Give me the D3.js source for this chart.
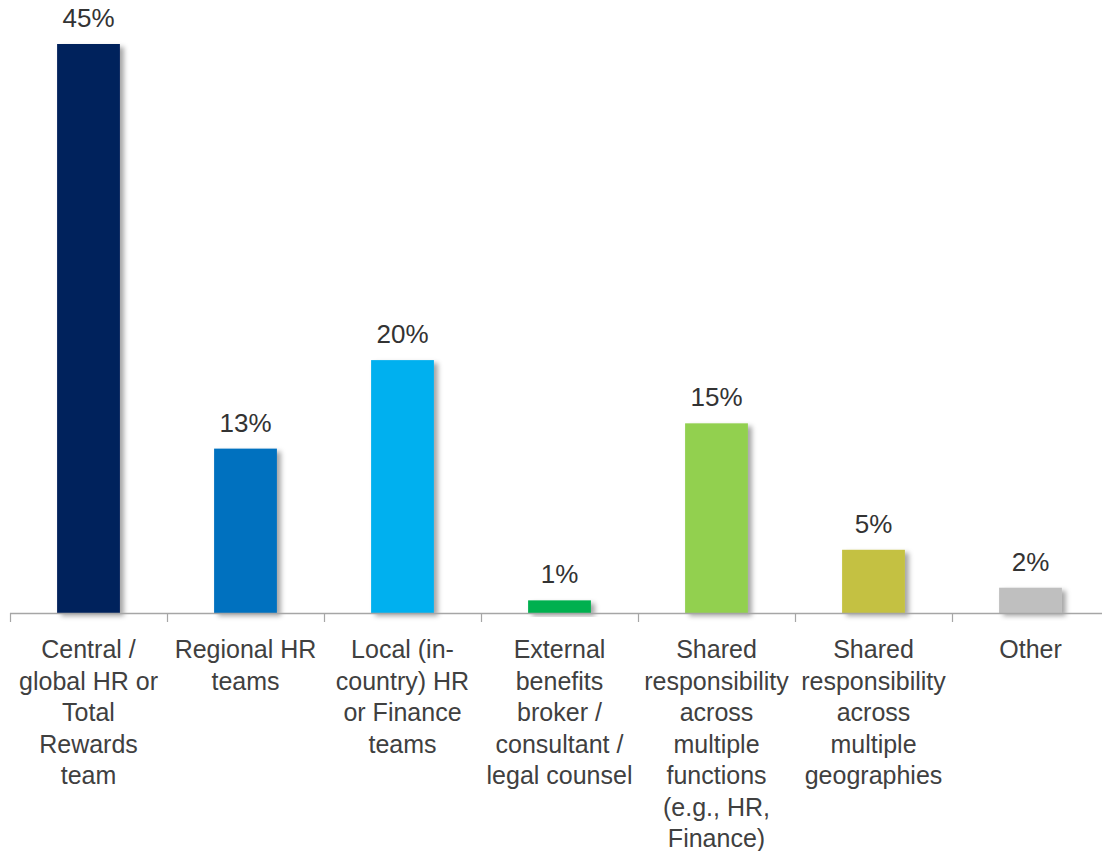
<!DOCTYPE html>
<html>
<head>
<meta charset="utf-8">
<script src="https://cdn.jsdelivr.net/npm/d3@7/dist/d3.min.js"></script>
<style>
  html, body { margin: 0; padding: 0; background: #fff; }
  svg { display: block; font-family: "Liberation Sans", Arial, sans-serif; }
</style>
</head>
<body>
<svg id="chart" width="1102" height="851"></svg>
<script>
// Who owns benefits decisions: share of respondents per group
const categories = [
  "Central / global HR or Total Rewards team",
  "Regional HR teams",
  "Local (in-country) HR or Finance teams",
  "External benefits broker / consultant / legal counsel",
  "Shared responsibility across multiple functions (e.g., HR, Finance)",
  "Shared responsibility across multiple geographies",
  "Other"
];
const categoryLines = [
  ["Central /", "global HR or", "Total", "Rewards", "team"],
  ["Regional HR", "teams"],
  ["Local (in-", "country) HR", "or Finance", "teams"],
  ["External", "benefits", "broker /", "consultant /", "legal counsel"],
  ["Shared", "responsibility", "across", "multiple", "functions", "(e.g., HR,", "Finance)"],
  ["Shared", "responsibility", "across", "multiple", "geographies"],
  ["Other"]
];
const values = [45, 13, 20, 1, 15, 5, 2];
const colors = ["#00205b", "#0071bf", "#00b0ef", "#00b050", "#92d050", "#c4c142", "#bfbfbf"];

const svg = d3.select("#chart");
const margin = { left: 10, baseline: 613, top: 44 };

const x = d3.scaleBand()
  .domain(categories)
  .range([margin.left, margin.left + 157 * categories.length])
  .paddingInner(0.6)
  .paddingOuter(0.3);

const y = d3.scaleLinear()
  .domain([0, d3.max(values)])
  .range([margin.baseline, margin.top]);

// soft shadow to the lower right of each bar
const defs = svg.append("defs");
const f = defs.append("filter").attr("id", "shadow")
  .attr("x", "-20%").attr("y", "-20%").attr("width", "150%").attr("height", "150%");
f.append("feDropShadow")
  .attr("dx", 4).attr("dy", 3).attr("stdDeviation", 2.5)
  .attr("flood-color", "#000").attr("flood-opacity", 0.35);

// bars
svg.append("g").selectAll("rect")
  .data(values)
  .join("rect")
  .attr("x", (d, i) => x(categories[i]))
  .attr("y", d => y(d))
  .attr("width", x.bandwidth())
  .attr("height", d => y(0) - y(d))
  .attr("fill", (d, i) => colors[i])
  .attr("filter", "url(#shadow)");

// category axis: boundary ticks between groups
const step = x.step();
const boundaries = d3.range(categories.length + 1).map(i => margin.left + i * step);
const axis = svg.append("g");
axis.append("line")
  .attr("x1", margin.left).attr("x2", 1102)
  .attr("y1", y(0) + 0.5).attr("y2", y(0) + 0.5)
  .attr("stroke", "#a6a6a6").attr("stroke-width", 1.5);
axis.selectAll("line.tick")
  .data(boundaries)
  .join("line")
  .attr("class", "tick")
  .attr("x1", d => d + 0.5).attr("x2", d => d + 0.5)
  .attr("y1", y(0)).attr("y2", y(0) + 9)
  .attr("stroke", "#a6a6a6").attr("stroke-width", 1.2);

// value labels
svg.append("g").selectAll("text")
  .data(values)
  .join("text")
  .attr("x", (d, i) => x(categories[i]) + x.bandwidth() / 2)
  .attr("y", d => y(d) - 17)
  .attr("text-anchor", "middle")
  .attr("font-size", 26)
  .attr("fill", "#333")
  .text(d => d + "%");

// multi-line category labels
const lineH = 31.5;
const labels = svg.append("g").selectAll("text")
  .data(categoryLines)
  .join("text")
  .attr("x", (d, i) => x(categories[i]) + x.bandwidth() / 2)
  .attr("y", 658)
  .attr("text-anchor", "middle")
  .attr("font-size", 25)
  .attr("fill", "#404040");
labels.selectAll("tspan")
  .data((d, i) => d.map(t => ({ t, cx: x(categories[i]) + x.bandwidth() / 2 })))
  .join("tspan")
  .attr("x", d => d.cx)
  .attr("dy", (d, j) => j === 0 ? 0 : lineH)
  .text(d => d.t);
</script>
</body>
</html>
